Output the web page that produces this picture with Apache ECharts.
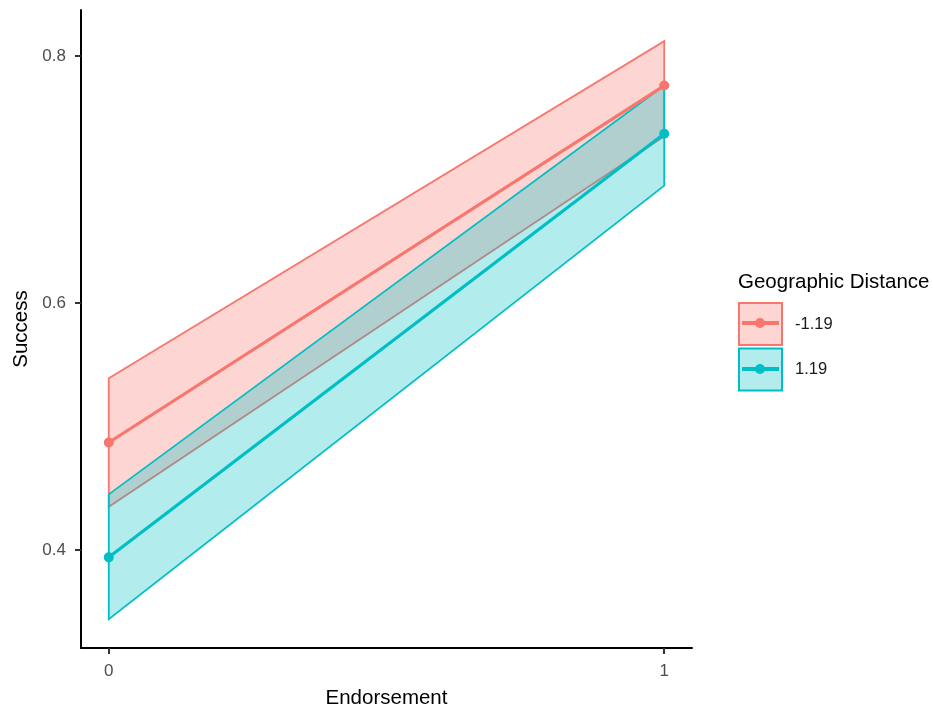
<!DOCTYPE html>
<html>
<head>
<meta charset="utf-8">
<script src="https://cdn.jsdelivr.net/npm/echarts@6/dist/echarts.min.js"></script>
<style>
  html, body { margin: 0; padding: 0; background: #fff; }
  #chart { width: 933px; height: 709px; }
</style>
</head>
<body>
<div id="chart"></div>
<script>
// data
const endorsement = [0, 1]
const groupNames = ['-1.19', '1.19']
const fitLow = [0.487, 0.776]      // Geographic Distance = -1.19
const lowerLow = [0.435, 0.735]
const upperLow = [0.539, 0.812]
const fitHigh = [0.394, 0.737]     // Geographic Distance = 1.19
const lowerHigh = [0.344, 0.695]
const upperHigh = [0.445, 0.776]
const xTicks = [0, 1]
const yTicks = [0.4, 0.6, 0.8]

const colors = ['#F8766D', '#00BFC4']
const fills = ['rgba(248,118,109,0.3)', 'rgba(0,191,196,0.3)']
const font = '"Liberation Sans", Arial, sans-serif'

const chart = echarts.init(document.getElementById('chart'))

// ribbon drawn as a polygon through the axis scales
const ribbon = (name, lower, upper, idx) => ({
  name: name,
  type: 'custom',
  z: 1 + idx,
  silent: true,
  data: endorsement.map((x, i) => [x, lower[i], upper[i]]),
  encode: { x: 0, y: [1, 2] },
  renderItem: (params, api) => {
    if (params.dataIndex !== 0) return
    const top = endorsement.map((x, i) => api.coord([x, upper[i]]))
    const bottom = endorsement.map((x, i) => api.coord([x, lower[i]])).reverse()
    return {
      type: 'polygon',
      shape: { points: top.concat(bottom) },
      style: { fill: fills[idx], stroke: colors[idx], lineWidth: 1.8 }
    }
  }
})

const fitLine = (name, fit, idx) => ({
  name: name,
  type: 'line',
  z: 5 + idx,
  data: endorsement.map((x, i) => [x, fit[i]]),
  symbol: 'circle',
  symbolSize: 10,
  showSymbol: true,
  lineStyle: { color: colors[idx], width: 3.2 },
  itemStyle: { color: colors[idx] },
  emphasis: { disabled: true }
})

// line + dot drawn on top of each legend key box
const keyGlyph = (idx) => {
  const cy = 323 + idx * 46
  return [
    { type: 'line', z: 100, shape: { x1: 742, y1: cy, x2: 779, y2: cy }, style: { stroke: colors[idx], lineWidth: 4 } },
    { type: 'circle', z: 100, shape: { cx: 760, cy: cy, r: 5 }, style: { fill: colors[idx] } }
  ]
}

chart.setOption({
  animation: false,
  backgroundColor: '#ffffff',
  textStyle: { fontFamily: font },
  grid: { left: 81, right: 241, top: 10, bottom: 61, containLabel: false, outerBoundsMode: 'none' },
  title: {
    text: 'Geographic Distance',
    left: 738,
    top: 272,
    padding: 0,
    textStyle: { fontFamily: font, fontSize: 20.5, fontWeight: 'normal', color: '#000' }
  },
  legend: {
    orient: 'vertical',
    left: 738,
    top: 302,
    padding: 0,
    itemWidth: 43,
    itemHeight: 42,
    itemGap: 1.5,
    selectedMode: false,
    data: groupNames.map((n, i) => ({
      name: n,
      icon: 'rect',
      itemStyle: { color: fills[i], borderColor: colors[i], borderWidth: 2 }
    })),
    textStyle: { fontFamily: font, fontSize: 16.5, color: '#1a1a1a', padding: [0, 0, 0, 8] }
  },
  xAxis: {
    type: 'value',
    min: -0.05,
    max: 1.05,
    name: 'Endorsement',
    nameLocation: 'middle',
    nameGap: 40,
    nameTextStyle: { fontFamily: font, fontSize: 20.5, color: '#000' },
    splitLine: { show: false },
    axisLine: { show: true, onZero: false, lineStyle: { color: '#000', width: 2 } },
    axisTick: { show: true, customValues: xTicks, length: 6, lineStyle: { color: '#333', width: 2 } },
    axisLabel: { customValues: xTicks, color: '#4d4d4d', fontSize: 17, margin: 15, fontFamily: font }
  },
  yAxis: {
    type: 'value',
    min: 0.3206,
    max: 0.8372,
    name: 'Success',
    nameLocation: 'middle',
    nameGap: 48,
    nameRotate: 90,
    nameTextStyle: { fontFamily: font, fontSize: 20.5, color: '#000' },
    splitLine: { show: false },
    axisLine: { show: true, onZero: false, lineStyle: { color: '#000', width: 2 } },
    axisTick: { show: true, customValues: yTicks, length: 6, lineStyle: { color: '#333', width: 2 } },
    axisLabel: {
      customValues: yTicks, color: '#4d4d4d', fontSize: 17, margin: 15, fontFamily: font,
      formatter: (v) => v.toFixed(1)
    }
  },
  graphic: keyGlyph(0).concat(keyGlyph(1)),
  series: [
    ribbon(groupNames[0], lowerLow, upperLow, 0),
    ribbon(groupNames[1], lowerHigh, upperHigh, 1),
    fitLine(groupNames[0], fitLow, 0),
    fitLine(groupNames[1], fitHigh, 1)
  ]
})

window.addEventListener('resize', () => chart.resize())
</script>
</body>
</html>
